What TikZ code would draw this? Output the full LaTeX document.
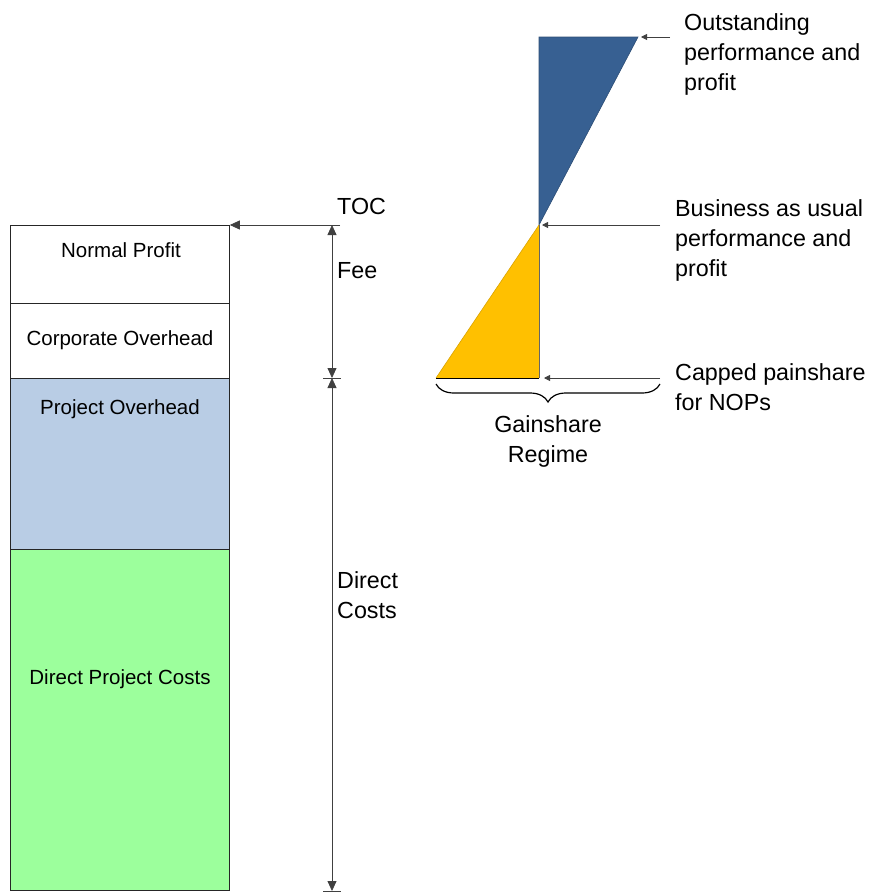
\documentclass[tikz,border=0pt]{standalone}
\usepackage{fontspec}
\setmainfont{Liberation Sans}
\usetikzlibrary{arrows.meta,decorations.pathreplacing}
\definecolor{navyfill}{HTML}{376092}
\definecolor{goldfill}{HTML}{FFC000}
\definecolor{slatefill}{HTML}{B9CDE5}
\definecolor{mintfill}{HTML}{9CFF9C}
\tikzset{
  costbox/.style={draw=black!85, line width=0.8pt, minimum width=219pt, inner sep=0pt, anchor=north west},
  boxtext/.style={font=\fontsize{20.5}{24}\selectfont, inner sep=0pt, anchor=base},
  bigtext/.style={font=\fontsize{23.3}{30}\selectfont, inner sep=0pt, align=left, anchor=north west},
  dimline/.style={draw=black!75, line width=0.8pt},
  bighead/.style={-{Triangle[length=10pt,width=9pt]}},
  smallhead/.style={-{Triangle[length=6pt,width=6pt]}}
}
\begin{document}
\begin{tikzpicture}[x=1pt,y=-1pt]
\useasboundingbox (0,0) rectangle (877,894);
% cost column
\node[costbox, minimum height=78pt] (np) at (10,225) {};
\node[costbox, minimum height=75pt] (co) at (10,303) {};
\node[costbox, fill=slatefill, minimum height=171pt] (po) at (10,378) {};
\node[costbox, fill=mintfill, minimum height=341pt] (dpc) at (10,549) {};
\node[boxtext] (npt) at (121,257) {Normal Profit};
\node[boxtext] (cot) at (120,345) {Corporate Overhead};
\node[boxtext] (pot) at (120,414) {Project Overhead};
\node[boxtext] (dpct) at (120,684) {Direct Project Costs};
% dimension lines
\coordinate (tocend) at (340,225);
\coordinate (dtop) at (332,225);
\coordinate (dmid) at (332,378);
\coordinate (dbot) at (332,891);
\coordinate (tickmidL) at (323,378);
\coordinate (tickmidR) at (341,378);
\coordinate (tickbotL) at (323,891);
\coordinate (tickbotR) at (341,891);
\draw[dimline, bighead] (tocend) -- (np.north east);
\draw[dimline, {Triangle[length=10pt,width=9pt]}-{Triangle[length=10pt,width=9pt]}] (dtop) -- (dmid);
\draw[dimline, {Triangle[length=10pt,width=9pt]}-{Triangle[length=10pt,width=9pt]}] (dmid) -- (dbot);
\draw[dimline] (tickmidL) -- (tickmidR);
\draw[dimline] (tickbotL) -- (tickbotR);
\node[bigtext] (toc) at (337,198) {TOC};
\node[bigtext] (fee) at (337,262) {Fee};
\node[bigtext] (dc) at (337,571) {Direct\\Costs};
% gainshare triangles
\coordinate (btl) at (539,37);
\coordinate (btr) at (638,37);
\coordinate (mid) at (539,225);
\coordinate (gbl) at (436,378);
\coordinate (gbr) at (539,378);
\fill[navyfill] (btl) -- (btr) -- (mid) -- cycle;
\draw[navyfill!80!black, line width=0.6pt] (btl) -- (btr) -- (mid) -- cycle;
\fill[goldfill] (mid) -- (gbr) -- (gbl) -- cycle;
\draw[black!60, line width=0.8pt] (mid) -- (gbr);
\draw[goldfill!85!black, line width=0.6pt] (mid) -- (gbl);
\draw[black, line width=0.8pt] (gbl) -- (gbr);
% pointer arrows
\coordinate (p1) at (670,37);
\coordinate (p1e) at (641,37);
\coordinate (p2) at (660,225);
\coordinate (p2e) at (542,225);
\coordinate (p3) at (660,378);
\coordinate (p3e) at (544,378);
\draw[dimline, smallhead] (p1) -- (p1e);
\draw[dimline, smallhead] (p2) -- (p2e);
\draw[dimline, smallhead] (p3) -- (p3e);
\node[bigtext] (outs) at (684,13) {Outstanding\\performance and\\profit};
\node[bigtext] (bau) at (675,199) {Business as usual\\performance and\\profit};
\node[bigtext] (cap) at (675,363.5) {Capped painshare\\for NOPs};
% brace
\coordinate (brL) at (436,384);
\coordinate (brR) at (660,384);
\draw[black, line width=1.2pt, decorate, decoration={brace, mirror, amplitude=18pt}] (brL) -- (brR);
\node[bigtext, align=center, anchor=north] (gr) at (548,415.5) {Gainshare\\Regime};
\end{tikzpicture}
\end{document}
